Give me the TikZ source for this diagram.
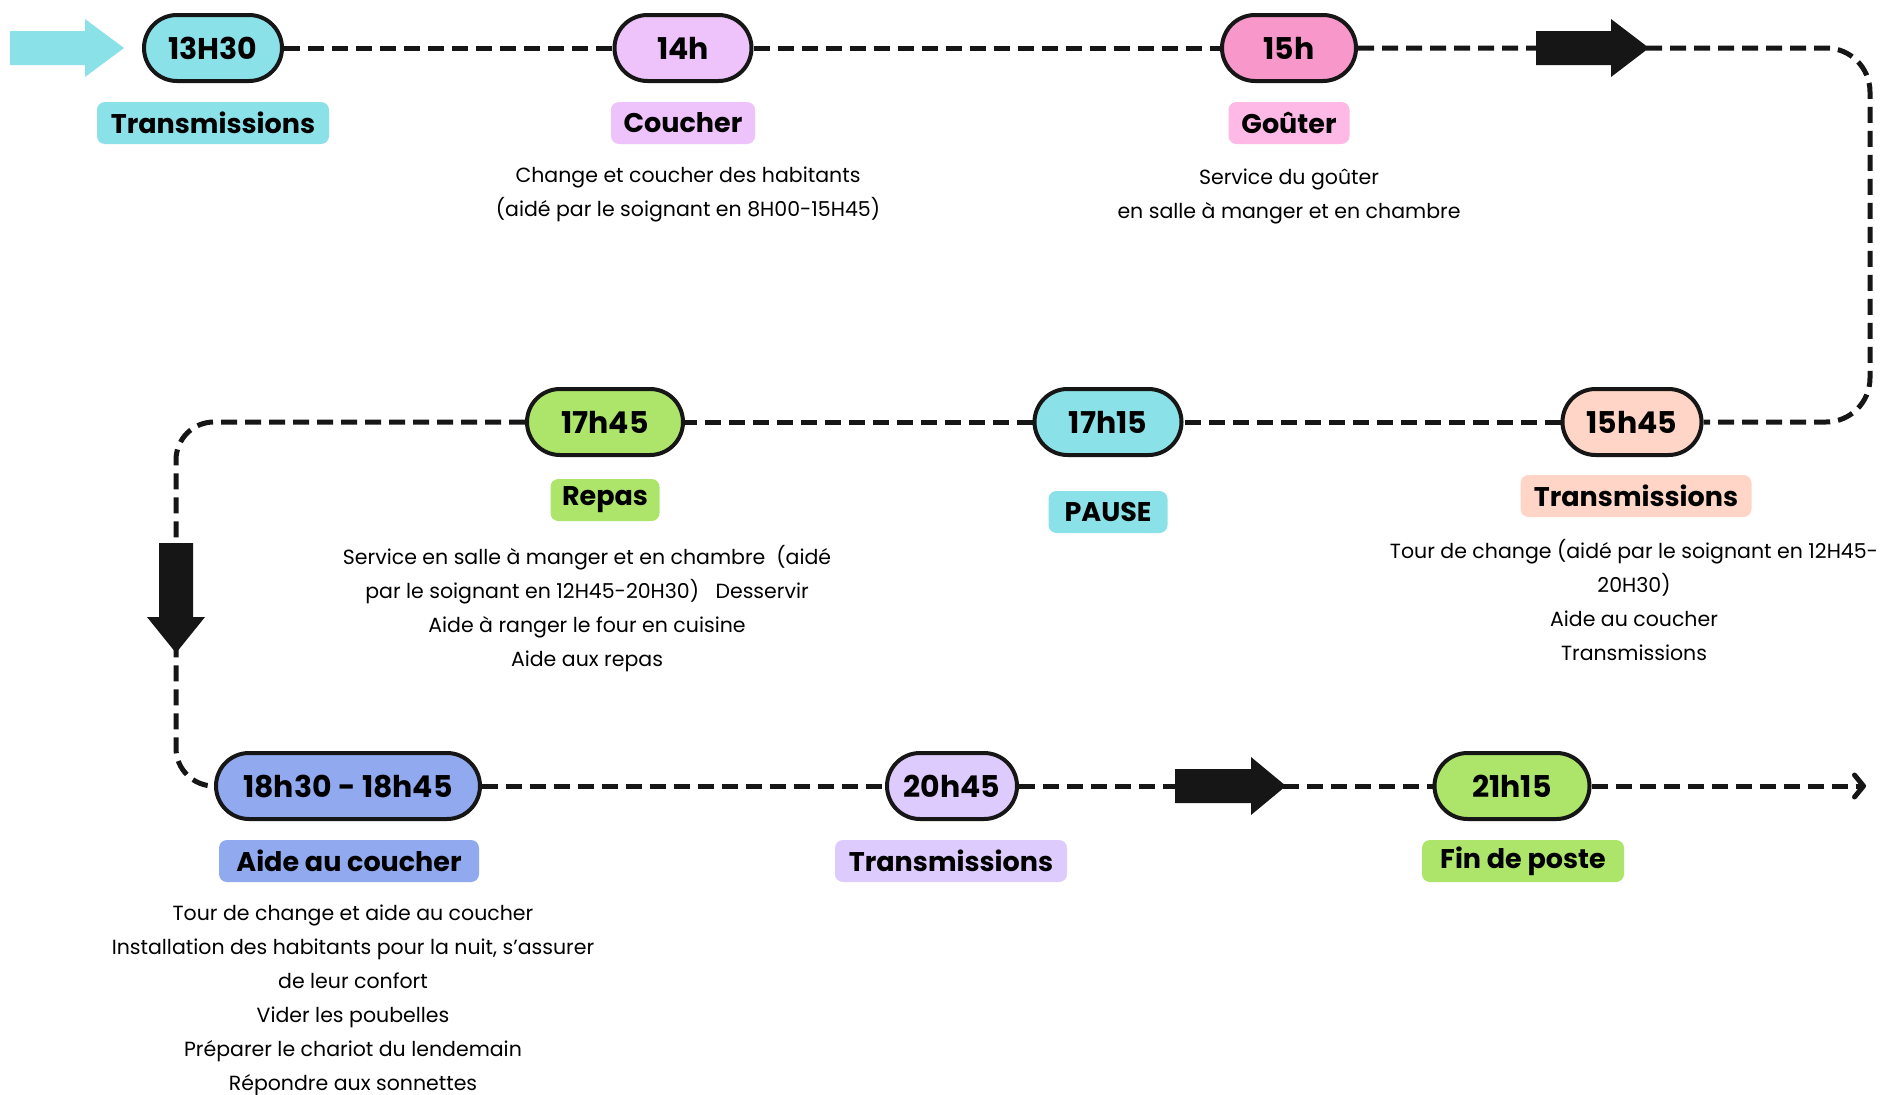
\documentclass[tikz,border=0pt]{standalone}
\usepackage{fontspec}
\setmainfont{Poppins}
\usetikzlibrary{arrows.meta,positioning}
\definecolor{ink}{HTML}{161616}
\definecolor{cyanbox}{HTML}{8AE2E8}
\definecolor{lilac}{HTML}{EEC2FB}
\definecolor{pinkbox}{HTML}{F797CA}
\definecolor{pinktag}{HTML}{FEB9E6}
\definecolor{peach}{HTML}{FED5C6}
\definecolor{greenbox}{HTML}{ADE56A}
\definecolor{bluebox}{HTML}{90A9EF}
\definecolor{lavender}{HTML}{DCCBFC}
\newcommand{\timefont}{\fontsize{30}{36}\selectfont\bfseries}
\newcommand{\tagfont}{\fontsize{27}{32}\selectfont\bfseries}
\newcommand{\descfont}{\fontsize{20.5}{34}\selectfont}
\tikzset{
    timebox/.style = {draw=ink, line width=4pt, rectangle,
        rounded corners=33pt,
        minimum height=66pt, inner sep=0pt, font=\timefont},
    tagbox/.style = {rectangle, rounded corners=8pt,
        minimum height=42pt, inner sep=0pt, font=\tagfont},
    desc/.style = {align=center, anchor=north, inner sep=0pt, font=\descfont},
    link/.style = {draw=ink, line width=5pt, dash pattern=on 16pt off 8pt}
}

\begin{document}
\begin{tikzpicture}[x=1pt, y=-1pt]
    \path[fill=white] (0,0) rectangle (1888,1095);
    \useasboundingbox (0,0) rectangle (1888,1095);
    % time stamps
    \node[timebox, fill=cyanbox, minimum width=138pt] (t1330) at (213,48) {13H30};
    \node[timebox, fill=lilac, minimum width=137pt] (t14h) at (683,48) {14h};
    \node[timebox, fill=pinkbox, minimum width=134pt] (t15h) at (1289,48) {15h};
    \node[timebox, fill=peach, minimum width=139pt] (t1545) at (1632,422) {15h45};
    \node[timebox, fill=cyanbox, minimum width=147pt] (t1715) at (1108,422) {17h15};
    \node[timebox, fill=greenbox, minimum width=156pt] (t1745) at (605,422) {17h45};
    \node[timebox, fill=bluebox, minimum width=264pt] (t1830) at (348,786) {18h30 - 18h45};
    \node[timebox, fill=lavender, minimum width=130pt] (t2045) at (952,786) {20h45};
    \node[timebox, fill=greenbox, minimum width=155pt] (t2115) at (1512,786) {21h15};
    % tags
    \node[tagbox, fill=cyanbox, minimum width=232pt] (g1) at (213,123) {Transmissions};
    \node[tagbox, fill=lilac, minimum width=144pt] (g2) at (683,123) {Coucher};
    \node[tagbox, fill=pinktag, minimum width=121pt] (g3) at (1289,123) {Goûter};
    \node[tagbox, fill=peach, minimum width=231pt] (g4) at (1636,496) {Transmissions};
    \node[tagbox, fill=cyanbox, minimum width=119pt] (g5) at (1108,512) {PAUSE};
    \node[tagbox, fill=greenbox, minimum width=109pt] (g6) at (605,500) {Repas};
    \node[tagbox, fill=bluebox, minimum width=260pt] (g7) at (349,861) {Aide au coucher};
    \node[tagbox, fill=lavender, minimum width=232pt] (g8) at (951,861) {Transmissions};
    \node[tagbox, fill=greenbox, minimum width=202pt] (g9) at (1523,861) {Fin de poste};
    % descriptions
    \node[desc] (d1) at (688,167) {Change et coucher des habitants\\(aidé par le soignant en 8H00-15H45)};
    \node[desc] (d2) at (1289,169) {Service du goûter\\en salle à manger et en chambre};
    \node[desc] (d3) at (1634,539) {Tour de change (aidé par le soignant en 12H45-\\20H30)\\Aide au coucher\\Transmissions};
    \node[desc] (d4) at (587,545) {Service en salle à manger et en chambre~~(aidé\\par le soignant en 12H45-20H30)~~~Desservir\\Aide à ranger le four en cuisine\\Aide aux repas};
    \node[desc] (d5) at (353,905) {Tour de change et aide au coucher\\Installation des habitants pour la nuit, s’assurer\\de leur confort\\Vider les poubelles\\Préparer le chariot du lendemain\\Répondre aux sonnettes};
    % path
    \coordinate (ne) at (1870,48);
    \coordinate (se) at (1870,422);
    \coordinate (nw) at (176,422);
    \coordinate (sw) at (176,786);
    \coordinate (end) at (1866,786);
    \draw[link] (t1330) -- (t14h);
    \draw[link] (t14h) -- (t15h);
    \draw[link, rounded corners=44pt] (t15h) -- (ne) -- (se) -- (t1545);
    \draw[link] (t1545) -- (t1715);
    \draw[link] (t1715) -- (t1745);
    \draw[link, rounded corners=38pt] (t1745) -- (nw) -- (sw) -- (t1830);
    \draw[link] (t1830) -- (t2045);
    \draw[link] (t2045) -- (t2115);
    \draw[link, -{Straight Barb[length=9pt, width=22pt, round]}] (t2115) -- (end);
    % big arrows
    \fill[cyanbox] (10,31) -- (85,31) -- (85,19) -- (124,48) -- (85,77) -- (85,65) -- (10,65) -- cycle;
    \fill[ink] (1536,31) -- (1611,31) -- (1611,19) -- (1649,48) -- (1611,77) -- (1611,65) -- (1536,65) -- cycle;
    \fill[ink] (159,543) -- (193,543) -- (193,617) -- (205,617) -- (176,653) -- (147,617) -- (159,617) -- cycle;
    \fill[ink] (1175,769) -- (1251,769) -- (1251,757) -- (1286,786) -- (1251,815) -- (1251,803) -- (1175,803) -- cycle;
\end{tikzpicture}
\end{document}
